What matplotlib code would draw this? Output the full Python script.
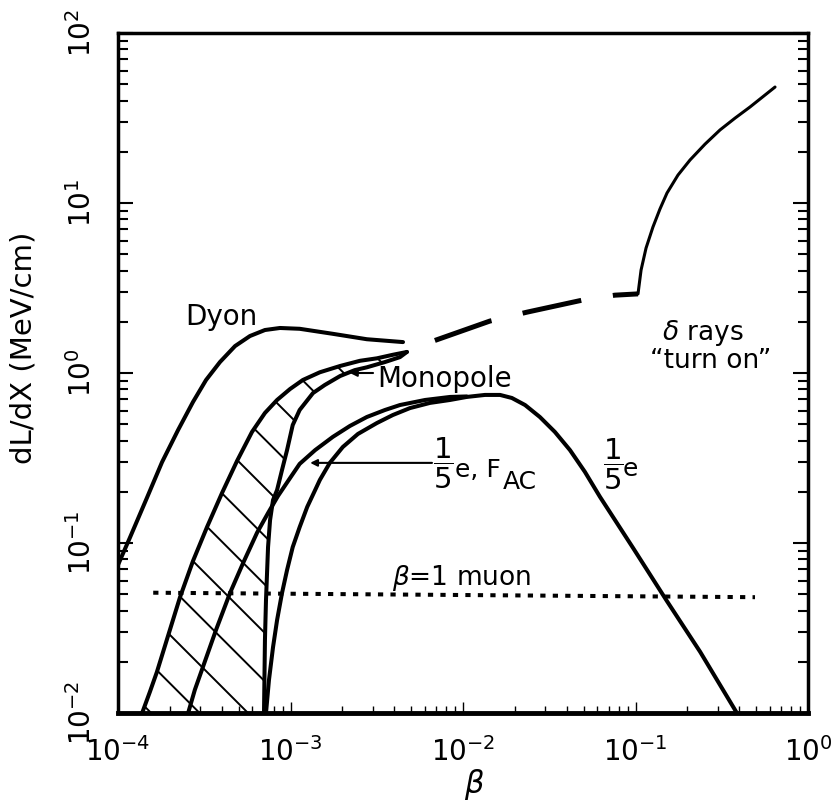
import numpy as np
import matplotlib
matplotlib.use('Agg')
import matplotlib.pyplot as plt
from matplotlib.patches import Polygon

plt.rcParams['font.family'] = ['DejaVu Sans']
plt.rcParams['mathtext.fontset'] = 'dejavusans'

# ---------------- data ----------------
dyon_beta = [1.0e-4, 1.17e-4, 1.47e-4, 1.80e-4, 2.23e-4, 2.72e-4, 3.24e-4, 3.90e-4,
             4.77e-4, 5.82e-4, 7.11e-4, 8.69e-4, 1.13e-3, 1.76e-3, 2.77e-3, 4.49e-3]
dyon_y = [0.0743, 0.107, 0.184, 0.299, 0.462, 0.675, 0.910, 1.16,
          1.44, 1.65, 1.79, 1.84, 1.82, 1.70, 1.58, 1.52]

dash_beta = [4.49e-3, 6.70e-3, 1.43e-2, 2.35e-2, 5.23e-2, 7.61e-2, 0.1034]
dash_y = [1.52, 1.54, 2.02, 2.28, 2.72, 2.87, 2.92]

delta_beta = [0.1034, 0.1077, 0.1151, 0.1262, 0.1386, 0.1523, 0.1763, 0.207,
              0.253, 0.309, 0.378, 0.461, 0.644]
delta_y = [2.92, 4.03, 5.43, 7.22, 9.22, 11.45, 14.6, 17.9,
           22.2, 26.9, 31.6, 36.7, 48.1]

monoA_beta = [1.38e-4, 1.53e-4, 1.68e-4, 1.95e-4, 2.29e-4, 2.72e-4, 3.28e-4, 4.01e-4,
              4.90e-4, 5.98e-4, 7.11e-4, 8.36e-4, 9.94e-4, 1.18e-3, 1.48e-3, 1.94e-3,
              2.53e-3, 3.17e-3, 3.92e-3, 4.73e-3]
monoA_y = [0.01, 0.0133, 0.0174, 0.0284, 0.0481, 0.0783, 0.124, 0.197,
           0.304, 0.450, 0.582, 0.694, 0.805, 0.910, 1.01, 1.10,
           1.18, 1.22, 1.28, 1.33]

monoV_beta = [7.02e-4, 7.11e-4, 7.21e-4, 7.41e-4, 7.61e-4, 7.92e-4, 8.36e-4, 8.93e-4,
              9.55e-4, 1.03e-3, 1.13e-3, 1.35e-3, 1.58e-3, 1.94e-3, 2.36e-3, 2.77e-3,
              3.53e-3, 4.31e-3, 4.73e-3]
monoV_y = [0.01, 0.0269, 0.0462, 0.0946, 0.136, 0.179, 0.205, 0.269,
           0.352, 0.494, 0.606, 0.762, 0.850, 0.960, 1.04, 1.08,
           1.16, 1.24, 1.33]

fac_beta = [2.55e-4, 2.79e-4, 3.11e-4, 3.70e-4, 4.46e-4, 5.31e-4, 6.40e-4, 7.41e-4,
            8.46e-4, 9.94e-4, 1.13e-3, 1.39e-3, 1.76e-3, 2.21e-3, 2.77e-3, 3.53e-3,
            4.31e-3, 6.03e-3, 8.41e-3, 1.05e-2]
fac_y = [0.01, 0.0137, 0.0187, 0.0308, 0.0508, 0.0762, 0.115, 0.150,
         0.189, 0.241, 0.292, 0.352, 0.421, 0.488, 0.551, 0.606,
         0.648, 0.694, 0.723, 0.728]

fifth_beta = [7.21e-4, 7.50e-4, 7.92e-4, 8.36e-4, 8.93e-4, 9.55e-4, 1.03e-3, 1.13e-3,
              1.25e-3, 1.39e-3, 1.48e-3, 1.69e-3, 2.01e-3, 2.46e-3, 3.17e-3, 3.92e-3,
              4.93e-3, 6.44e-3, 8.41e-3, 1.05e-2, 1.34e-2, 1.64e-2, 1.92e-2, 2.29e-2,
              2.79e-2, 3.41e-2, 4.17e-2, 5.09e-2, 6.22e-2, 9.68e-2, 0.152, 0.237, 0.387]
fifth_y = [0.01, 0.0156, 0.0244, 0.0352, 0.0508, 0.0693, 0.0946, 0.124,
           0.163, 0.205, 0.235, 0.296, 0.367, 0.438, 0.508, 0.566,
           0.622, 0.667, 0.694, 0.723, 0.743, 0.743, 0.713, 0.648,
           0.551, 0.450, 0.352, 0.262, 0.187, 0.0935, 0.0456, 0.0229, 0.01]

muon_beta = [1.6e-4, 0.493]
muon_y = [0.051, 0.048]

x_ticks = [1e-4, 1e-3, 1e-2, 1e-1, 1e0]
y_ticks = [1e-2, 1e-1, 1e0, 1e1, 1e2]

# ---------------- figure ----------------
fig = plt.figure(figsize=(8.33, 8.08), dpi=100)
ax = fig.add_axes([118 / 833, 95 / 808, 690 / 833, 680 / 808])
ax.set_xscale('log')
ax.set_yscale('log')

K = 'black'
common = dict(color=K, solid_joinstyle='round', solid_capstyle='round')
ax.plot(dyon_beta, dyon_y, lw=2.9, **common)
ax.plot(dash_beta, dash_y, color=K, lw=3.6, linestyle=(12, (12, 6.4)),
        dash_capstyle='butt')
ax.plot(delta_beta, delta_y, lw=2.2, **common)
ax.plot(monoA_beta, monoA_y, lw=2.9, **common)
ax.plot(monoV_beta, monoV_y, lw=2.9, **common)
ax.plot(fac_beta, fac_y, lw=2.9, **common)
ax.plot(fifth_beta, fifth_y, lw=2.9, **common)
ax.plot(muon_beta, muon_y, color=K, lw=2.9, linestyle=(0, (1.3, 1.8)),
        dash_capstyle='butt')

# hatched monopole band
band = Polygon(np.column_stack([np.r_[monoA_beta, monoV_beta[::-1]],
                                np.r_[monoA_y, monoV_y[::-1]]]),
               closed=True, facecolor='none', edgecolor='none',
               transform=ax.transData)
ax.add_patch(band)
ratio = 690 / 680
for k in range(-3, 16):
    c = 0.12 + k * 0.0712
    xs = np.array([0.0, 1.0])
    ln, = ax.plot(xs, c - xs * ratio, transform=ax.transAxes, color=K, lw=1.4)
    ln.set_clip_path(band)

# arrows
ax.annotate('', xy=(2.21e-3, 1.0), xytext=(3.01e-3, 1.0),
            arrowprops=dict(arrowstyle='-|>', color=K, lw=1.5,
                            mutation_scale=10, shrinkA=0, shrinkB=0))
ax.annotate('', xy=(1.30e-3, 0.296), xytext=(6.61e-3, 0.296),
            arrowprops=dict(arrowstyle='-|>', color=K, lw=1.5,
                            mutation_scale=10, shrinkA=0, shrinkB=0))

# text labels
T = ax.transAxes
ax.text(0.0971, 0.5706, 'Dyon', transform=T, fontsize=20, va='baseline', ha='left')
ax.text(0.3754, 0.4794, 'Monopole', transform=T, fontsize=20, va='baseline', ha='left')
ax.text(0.4710, 0.3676, r'$\dfrac{1}{5}$', transform=T, fontsize=21, va='center', ha='center')
ax.text(0.4884, 0.3471, 'e, F', transform=T, fontsize=18, va='baseline', ha='left')
ax.text(0.5580, 0.3294, 'AC', transform=T, fontsize=18, va='baseline', ha='left')
ax.text(0.7174, 0.3662, r'$\dfrac{1}{5}$', transform=T, fontsize=21, va='center', ha='center')
ax.text(0.7319, 0.3485, 'e', transform=T, fontsize=18, va='baseline', ha='left')
ax.text(0.3971, 0.1882, r'$\beta$=1 muon', transform=T, fontsize=19, va='baseline', ha='left')
ax.text(0.7884, 0.5485, r'$\delta$ rays', transform=T, fontsize=19, va='baseline', ha='left')
ax.text(0.7710, 0.5074, '\u201cturn on\u201d', transform=T, fontsize=19, va='baseline', ha='left')

# axes cosmetics
ax.set_xlim(1e-4, 1)
ax.set_ylim(1e-2, 1e2)
ax.set_xticks(x_ticks)
ax.set_yticks(y_ticks)
ax.tick_params(axis='y', which='both', direction='in', left=True, right=True, width=1.5)
ax.tick_params(axis='y', which='major', length=11, pad=15, labelsize=20, labelrotation=90)
ax.tick_params(axis='y', which='minor', length=7)
ax.tick_params(axis='x', which='both', direction='in', top=False, bottom=True, width=1)
ax.tick_params(axis='x', which='major', length=8, pad=17, labelsize=20)
ax.tick_params(axis='x', which='minor', length=5)
plt.setp(ax.get_yticklabels(), va='center')

for s in ['left', 'right', 'top']:
    ax.spines[s].set_linewidth(2.5)
ax.spines['bottom'].set_linewidth(3.5)

ax.set_xlabel(r'$\beta$', fontsize=22)
ax.xaxis.set_label_coords(0.517, -0.079)
ax.set_ylabel('dL/dX (MeV/cm)', fontsize=21)
ax.yaxis.set_label_coords(-0.116, 0.537)

fig.savefig('out.png', dpi=100)
